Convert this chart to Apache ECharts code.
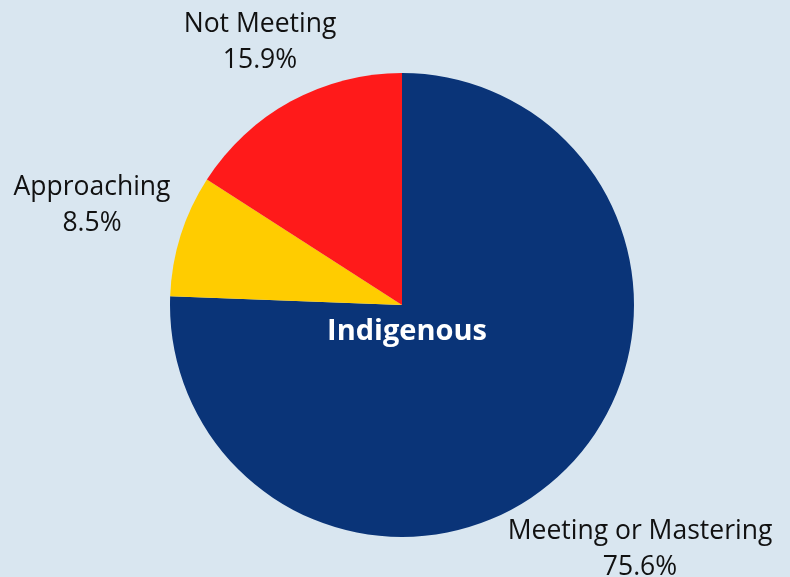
<!DOCTYPE html>
<html>
<head>
<meta charset="utf-8">
<script src="https://cdn.jsdelivr.net/npm/echarts@6/dist/echarts.min.js"></script>
<style>
  html, body { margin: 0; padding: 0; background: #d9e6f0; }
  #chart { width: 790px; height: 577px; }
</style>
</head>
<body>
<div id="chart"></div>
<script>
// categories and values (percent)
var categories = ['Meeting or Mastering', 'Approaching', 'Not Meeting'];
var values = [75.6, 8.5, 15.9];
var colors = ['#0a3478', '#ffcc00', '#ff1a1a'];
var centerLabel = 'Indigenous';

// where each outside label sits (center of the two-line text block)
var labelSpots = [[640, 549], [92, 205], [260, 42]];

var chart = echarts.init(document.getElementById('chart'));

var data = [];
for (var i = 0; i < categories.length; i++) {
  data.push({ name: categories[i], value: values[i], itemStyle: { color: colors[i] } });
}

var option = {
  backgroundColor: '#d9e6f0',
  animation: false,
  graphic: [{
    type: 'text',
    x: 407,
    y: 332,
    z: 100,
    style: {
      text: centerLabel,
      fill: '#ffffff',
      font: 'bold 29px "Open Sans"',
      align: 'center',
      verticalAlign: 'middle'
    }
  }],
  series: [{
    type: 'pie',
    center: [402, 305],
    radius: [0, 232],
    startAngle: 90,
    clockwise: true,
    avoidLabelOverlap: false,
    label: {
      show: true,
      position: 'outside',
      formatter: function (p) { return p.name + '\n' + p.value.toFixed(1) + '%'; },
      fontFamily: 'Open Sans',
      fontSize: 26.5,
      lineHeight: 36,
      color: '#111111',
      align: 'center'
    },
    labelLine: { show: false },
    labelLayout: function (params) {
      var s = labelSpots[params.dataIndex];
      return { x: s[0], y: s[1], align: 'center', verticalAlign: 'middle' };
    },
    itemStyle: { borderWidth: 0 },
    emphasis: { disabled: true },
    data: data
  }]
};
chart.setOption(option);
</script>
</body>
</html>
